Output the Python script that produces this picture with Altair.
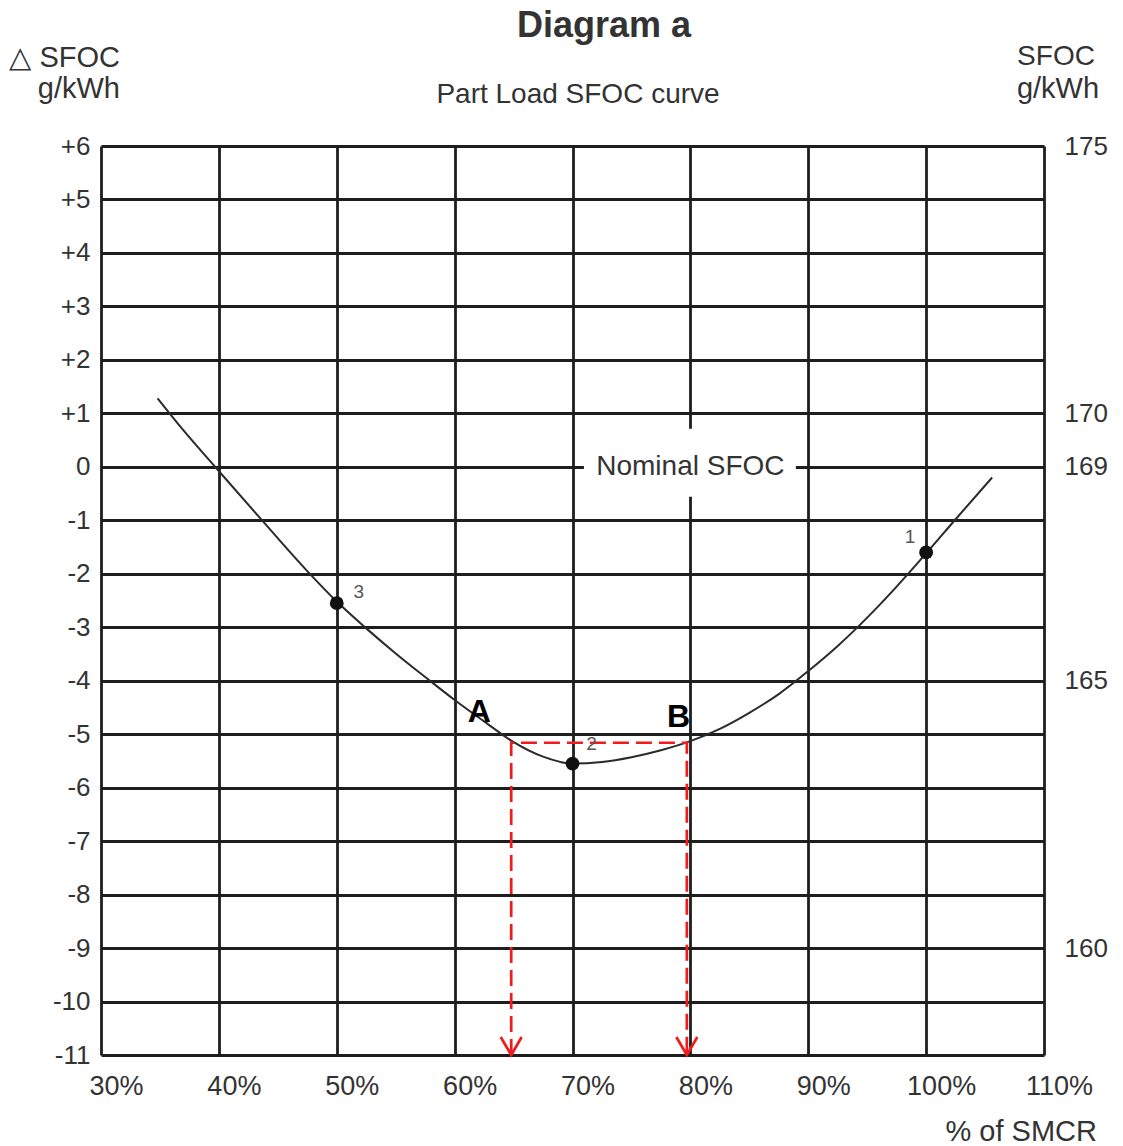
import altair as alt
import pandas as pd

# ---- data ----
load_pct = [34.8, 37.0, 39.6, 43.5, 47.5, 50.0, 52.6, 55.0, 57.9, 60.0, 62.5, 64.8, 67.5, 70.0,
            72.5, 75.0, 77.5, 80.0, 82.5, 85.0, 87.5, 90.0, 92.5, 95.0, 97.5, 100.0, 102.5, 105.6]
delta_sfoc = [1.28, 0.68, 0.02, -0.96, -1.95, -2.52, -3.04, -3.49, -4.0, -4.36, -4.76, -5.12, -5.42, -5.55,
              -5.52, -5.43, -5.30, -5.13, -4.90, -4.60, -4.25, -3.82, -3.35, -2.82, -2.24, -1.62, -0.98, -0.2]

marked_load = [50, 70, 100]
marked_delta = [-2.55, -5.55, -1.6]
marked_labels = ["3", "2", "1"]
marked_dx = [22, 19, -16]
marked_dy = [-11, -20, -15]

x_ticks = [30, 40, 50, 60, 70, 80, 90, 100, 110]
y_ticks = list(range(-11, 7))
sfoc_ticks = [175, 170, 169, 165, 160]

band_load = [64.8, 64.8, 79.7, 79.7]
band_delta = [-11, -5.16, -5.16, -11]
arrow_load = [64.8, 79.7]
arrow_delta = [-11, -11]

letter_text = ["A", "B"]
letter_load = [62.1, 79.0]
letter_delta = [-4.58, -4.67]

nominal_label = "Nominal SFOC"
nominal_load = 80.0
nominal_delta = 0.0
nominal_box = [70.97, 88.95, 0.71, -0.56]

FONT = "Liberation Sans"
TXT = "#333333"
GRID = "#1e1e1e"

W, H = 943, 909

xscale = alt.Scale(domain=[30, 110], nice=False, zero=False)
yscale = alt.Scale(domain=[-11, 6], nice=False, zero=False)

xaxis = alt.Axis(values=x_ticks, labelExpr="datum.value + '%'", title=None,
                 grid=True, gridColor=GRID, gridWidth=2.8, gridOpacity=1,
                 domain=False, ticks=False, tickSize=0, labelFontSize=27,
                 labelFont=FONT, labelColor=TXT, labelPadding=18, labelOffset=15,
                 labelFlush=False, labelOverlap=False)
yaxis = alt.Axis(values=y_ticks, labelExpr="datum.value > 0 ? '+' + datum.value : '' + datum.value",
                 title=None, grid=True, gridColor=GRID, gridWidth=2.8, gridOpacity=1,
                 domain=False, ticks=False, tickSize=0, labelFontSize=26,
                 labelFont=FONT, labelColor=TXT, labelPadding=11,
                 labelFlush=False, labelOverlap=False)

curve_df = pd.DataFrame({"load": load_pct, "delta": delta_sfoc})
pts_df = pd.DataFrame({"load": marked_load, "delta": marked_delta, "lab": marked_labels,
                       "dx": marked_dx, "dy": marked_dy})
band_df = pd.DataFrame({"load": band_load, "delta": band_delta, "o": list(range(len(band_load)))})
arrow_df = pd.DataFrame({"load": arrow_load, "delta": arrow_delta})
letters_df = pd.DataFrame({"load": letter_load, "delta": letter_delta, "t": letter_text})
nom_df = pd.DataFrame({"load": [nominal_load], "delta": [nominal_delta], "t": [nominal_label],
                       "x1": [nominal_box[0]], "x2": [nominal_box[1]],
                       "y1": [nominal_box[2]], "y2": [nominal_box[3]]})

# axes carrier (grid)
base = alt.Chart(curve_df).mark_point(opacity=0).encode(
    x=alt.X("load:Q", scale=xscale, axis=xaxis),
    y=alt.Y("delta:Q", scale=yscale, axis=yaxis),
)

box = alt.Chart(nom_df).mark_rect(color="white").encode(
    x=alt.X("x1:Q", scale=xscale), x2="x2:Q",
    y=alt.Y("y1:Q", scale=yscale), y2="y2:Q",
)
nom_text = alt.Chart(nom_df).mark_text(font=FONT, fontSize=28, color=TXT, baseline="middle", align="center").encode(
    x=alt.X("load:Q", scale=xscale), y=alt.Y("delta:Q", scale=yscale), text="t:N")

curve = alt.Chart(curve_df).mark_line(interpolate="monotone", color="#2b2b2b", strokeWidth=2).encode(
    x=alt.X("load:Q", scale=xscale), y=alt.Y("delta:Q", scale=yscale))

band = alt.Chart(band_df).mark_line(color="#ee1c1c", strokeWidth=2.7, strokeDash=[16, 7]).encode(
    x=alt.X("load:Q", scale=xscale), y=alt.Y("delta:Q", scale=yscale), order="o:Q")

arrows = alt.Chart(arrow_df).mark_point(shape="M-1.05,-1.8L0,0L1.05,-1.8", size=400, filled=False,
                                        color="#ee1c1c", strokeWidth=2.7, opacity=1).encode(
    x=alt.X("load:Q", scale=xscale), y=alt.Y("delta:Q", scale=yscale))

dots = alt.Chart(pts_df).mark_circle(color="#111111", size=190, opacity=1).encode(
    x=alt.X("load:Q", scale=xscale), y=alt.Y("delta:Q", scale=yscale))

dot_labels = [
    alt.Chart(pts_df.iloc[[i]]).mark_text(font=FONT, fontSize=19, color="#555555",
                                          dx=marked_dx[i], dy=marked_dy[i]).encode(
        x=alt.X("load:Q", scale=xscale), y=alt.Y("delta:Q", scale=yscale), text="lab:N")
    for i in range(len(marked_labels))
]

letters = alt.Chart(letters_df).mark_text(font=FONT, fontSize=32, fontWeight="bold", color="black").encode(
    x=alt.X("load:Q", scale=xscale), y=alt.Y("delta:Q", scale=yscale), text="t:N")

# right axis (SFOC g/kWh)
sfoc_df = pd.DataFrame({"sfoc": sfoc_ticks})
right = alt.Chart(sfoc_df).mark_point(opacity=0).encode(
    y=alt.Y("sfoc:Q", scale=alt.Scale(domain=[158, 175], nice=False, zero=False),
            axis=alt.Axis(orient="right", values=sfoc_ticks, title=None, grid=False, domain=False,
                          ticks=False, tickSize=0, labelFontSize=26, labelFont=FONT,
                          labelColor=TXT, labelPadding=20, labelFlush=False, labelOverlap=False,
                          format="d")))

# header / axis-title texts
title_rows = pd.DataFrame({
    "t": ["Diagram a", "Part Load SFOC curve", "\u25b3 SFOC", "g/kWh", "SFOC", "g/kWh", "% of SMCR"],
})

def label(i, x, y, size, align="center", weight="normal"):
    return alt.Chart(title_rows.iloc[[i]]).mark_text(
        font=FONT, fontSize=size, fontWeight=weight, color=TXT, align=align, baseline="middle"
    ).encode(x=alt.value(x), y=alt.value(y), text="t:N")

texts = [
    label(0, 503, -120, 36, weight="bold"),
    label(1, 477, -51, 28),
    label(2, 19, -88, 29, align="right"),
    label(3, 19, -57, 29, align="right"),
    label(4, 955, -89, 28),
    label(5, 957, -57, 29),
    label(6, 996, 986, 29, align="right"),
]

main = alt.layer(base, box, nom_text, curve, band, arrows, dots, *dot_labels, letters, *texts)

chart = alt.layer(main, right).resolve_scale(y="independent").properties(
    width=W, height=H,
    autosize=alt.AutoSizeParams(type="none"),
    padding={"left": 101, "top": 146, "right": 79, "bottom": 91},
).configure_view(stroke=GRID, strokeWidth=2.8).configure(background="white")

chart.save("out.html", embed_options={"renderer": "svg", "actions": False})
